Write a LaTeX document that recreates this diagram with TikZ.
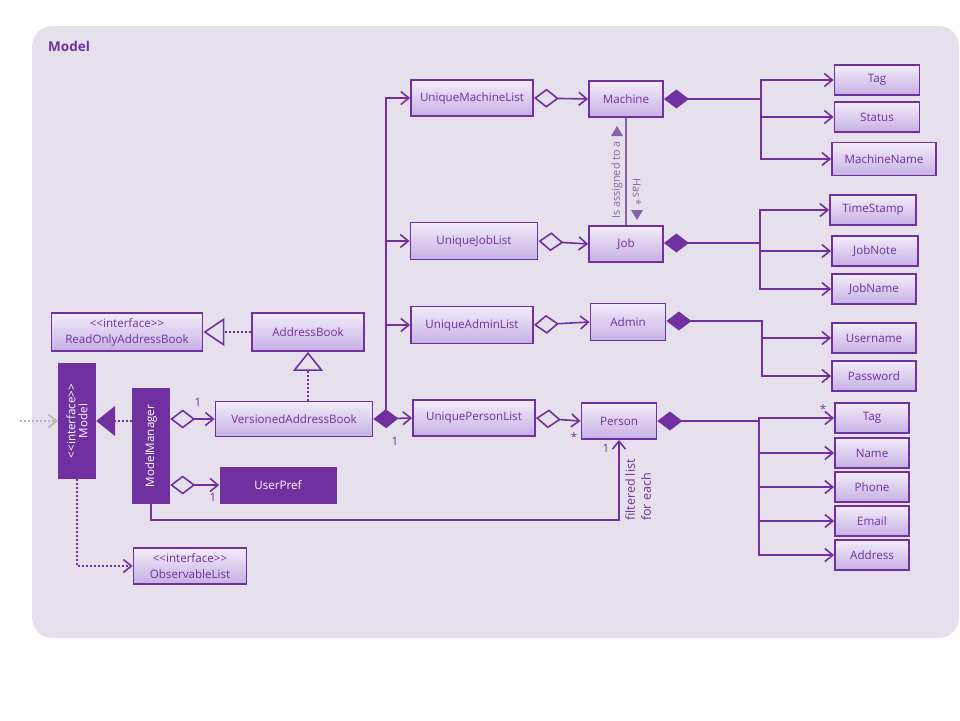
\documentclass[tikz,border=0pt]{standalone}
\usepackage{fontspec}
\setmainfont{Open Sans}
\usetikzlibrary{arrows.meta}
\definecolor{umlpurple}{HTML}{7030A0}
\definecolor{pkgbg}{HTML}{E6E0EC}
\definecolor{boxtop}{HTML}{F2ECFA}
\definecolor{boxbot}{HTML}{C6B0E4}
\definecolor{assoc}{HTML}{8464A6}
\definecolor{ingray}{HTML}{B4B4B4}
\tikzset{
cls/.style={rectangle,draw=umlpurple,line width=1.8pt,
top color=boxtop,bottom color=boxbot,text=umlpurple,
minimum height=30pt,inner sep=2pt,font=\fontsize{11.6}{16}\selectfont},
darkcls/.style={rectangle,fill=umlpurple,text=white,
inner sep=2pt,font=\fontsize{11.6}{16}\selectfont},
mult/.style={text=umlpurple,inner sep=0pt,font=\fontsize{11.6}{16}\selectfont},
link/.style={draw=umlpurple,line width=1.6pt},
dotlink/.style={link,dash pattern=on 2pt off 2pt},
umlopen/.tip={Straight Barb[length=8pt,width=13pt]},
umlhdia/.tip={Diamond[open,length=25pt,width=19pt]},
umlfdia/.tip={Diamond[length=25pt,width=19pt]}
}
\begin{document}
\begin{tikzpicture}[x=1pt,y=-1pt]
\useasboundingbox (0,0) rectangle (960,720);
\fill[pkgbg,rounded corners=20pt] (32,26) rectangle (959,638);
\node[text=umlpurple,font=\fontsize{13.5}{16}\selectfont\bfseries,anchor=west,inner sep=0pt] (title) at (48,46) {Model};

% lists
\node[cls,minimum width=122pt,minimum height=36pt] (uml) at (472,98) {UniqueMachineList};
\node[cls,minimum width=127pt,minimum height=37pt] (ujl) at (474,241) {UniqueJobList};
\node[cls,minimum width=122pt,minimum height=37pt] (ual) at (472,325) {UniqueAdminList};
\node[cls,minimum width=122pt,minimum height=36pt] (upl) at (474,418) {UniquePersonList};

\node[cls,minimum width=74pt,minimum height=36pt] (mach) at (626,99) {Machine};
\node[cls,minimum width=74pt,minimum height=36pt] (job) at (626,244) {Job};
\node[cls,minimum width=75pt,minimum height=37pt] (adm) at (628,322) {Admin};
\node[cls,minimum width=75pt,minimum height=36pt] (pers) at (619,421) {Person};

% attributes
\node[cls,minimum width=85pt] (mtag) at (877,80) {Tag};
\node[cls,minimum width=85pt] (mstat) at (877,117) {Status};
\node[cls,minimum width=104pt,minimum height=33pt] (mname) at (884,159) {MachineName};
\node[cls,minimum width=86pt] (jstamp) at (873,210) {TimeStamp};
\node[cls,minimum width=86pt] (jnote) at (875,251) {JobNote};
\node[cls,minimum width=84pt] (jname) at (874,289) {JobName};
\node[cls,minimum width=84pt] (auser) at (874,338) {Username};
\node[cls,minimum width=84pt] (apass) at (874,376) {Password};
\node[cls,minimum width=74pt] (ptag) at (872,418) {Tag};
\node[cls,minimum width=74pt] (pname) at (872,453) {Name};
\node[cls,minimum width=74pt] (pphone) at (872,487) {Phone};
\node[cls,minimum width=74pt] (pmail) at (872,521) {Email};
\node[cls,minimum width=74pt] (paddr) at (872,555) {Address};

% left part
\node[cls,minimum width=151pt,minimum height=38pt,align=center,inner sep=1pt] (roab) at (127,332) {<{}<interface>{}>\\ReadOnlyAddressBook};
\node[cls,minimum width=112pt,minimum height=38pt] (ab) at (308,332) {AddressBook};
\node[darkcls,minimum width=38pt,minimum height=116pt] (model) at (77,421) {\rotatebox{90}{\shortstack{<{}<interface>{}>\\Model}}};
\node[darkcls,minimum width=38pt,minimum height=116pt] (mgr) at (151,446) {\rotatebox{90}{ModelManager}};
\node[cls,minimum width=157pt,minimum height=35pt] (vab) at (294,419) {VersionedAddressBook};
\node[darkcls,minimum width=117pt,minimum height=37pt] (upref) at (278,485) {UserPref};
\node[cls,minimum width=113pt,minimum height=36pt,align=center,inner sep=1pt] (obs) at (190,566) {<{}<interface>{}>\\ObservableList};

\coordinate (ext) at (20,421);
\coordinate (ltrunk) at (386,419);
\coordinate (mtrunk) at (761,99);
\coordinate (jtrunk) at (760,243);
\coordinate (atrunk) at (762,321);
\coordinate (ptrunk) at (759,421);
\coordinate (fbend) at (619,520);

\draw[dotlink,-{Triangle[open,length=21pt,width=28pt]}] (ab.west) -- (roab.east);
\draw[dotlink,-{Triangle[open,length=19pt,width=30pt]}] (vab.north -| ab.south) -- (ab.south);
\draw[dotlink,-{Triangle[length=19pt,width=30pt]}] (mgr.west |- model.east) -- (model.east);
\draw[dotlink,draw=ingray,-umlopen] (ext) -- (model.west);
\draw[dotlink,-umlopen] (model.south) |- (obs.west);
\draw[link,umlhdia-umlopen] (mgr.east |- vab.west) -- (vab.west);
\draw[link,umlhdia-umlopen] (mgr.east |- upref.west) -- (upref.west);
\draw[link,-umlopen] (mgr.south) |- (fbend) -- (pers.south);
\draw[link,umlfdia-umlopen] (vab.east) -- (upl.west);
\draw[link,-umlopen] (ltrunk) |- (uml.west);
\draw[link,-umlopen] (ltrunk) |- (ujl.west);
\draw[link,-umlopen] (ltrunk) |- (ual.west);

\draw[link,umlhdia-umlopen] (uml.east) -- (mach.west);
\draw[link,umlhdia-umlopen] (ujl.east) -- (job.west);
\draw[link,umlhdia-umlopen] (ual.east) -- (adm.west);
\draw[link,umlhdia-umlopen] (upl.east) -- (pers.west);

\draw[line width=1.4pt,assoc] (mach.south) -- (job.north);
\fill[assoc] (617,126) -- (623,136) -- (611,136) -- cycle;
\fill[assoc] (637,220) -- (643,210) -- (631,210) -- cycle;
\node[text=assoc,rotate=90,inner sep=0pt,font=\fontsize{10.8}{12}\selectfont] (isa) at (617,180) {Is assigned to a};
\node[text=assoc,rotate=-90,inner sep=0pt,font=\fontsize{10.8}{12}\selectfont] (has) at (637,192) {Has *};

\draw[link,umlfdia-umlopen] (mach.east) -- (mtrunk) |- (mtag.west);
\draw[link,-umlopen] (mtrunk) |- (mstat.west);
\draw[link,-umlopen] (mtrunk) |- (mname.west);
\draw[link,umlfdia-umlopen] (job.east |- jtrunk) -- (jtrunk) |- (jstamp.west);
\draw[link,-umlopen] (jtrunk) |- (jnote.west);
\draw[link,-umlopen] (jtrunk) |- (jname.west);
\draw[link,umlfdia-umlopen] (adm.east |- atrunk) -- (atrunk) |- (auser.west);
\draw[link,-umlopen] (atrunk) |- (apass.west);
\draw[link,umlfdia-umlopen] (pers.east) -- (ptrunk) |- (ptag.west);
\draw[link,-umlopen] (ptrunk) |- (pname.west);
\draw[link,-umlopen] (ptrunk) |- (pphone.west);
\draw[link,-umlopen] (ptrunk) |- (pmail.west);
\draw[link,-umlopen] (ptrunk) |- (paddr.west);

% multiplicities
\node[mult] (m1) at (198,402) {1};
\node[mult] (m2) at (213,497) {1};
\node[mult] (m3) at (395,441) {1};
\node[mult] (m4) at (574,437) {*};
\node[mult] (m5) at (606,448) {1};
\node[mult] (m6) at (823,409) {*};
\node[mult,rotate=90,anchor=north west,align=left,font=\fontsize{12.5}{16}\selectfont] (filt) at (625,521) {filtered list\\for each};
\end{tikzpicture}
\end{document}
